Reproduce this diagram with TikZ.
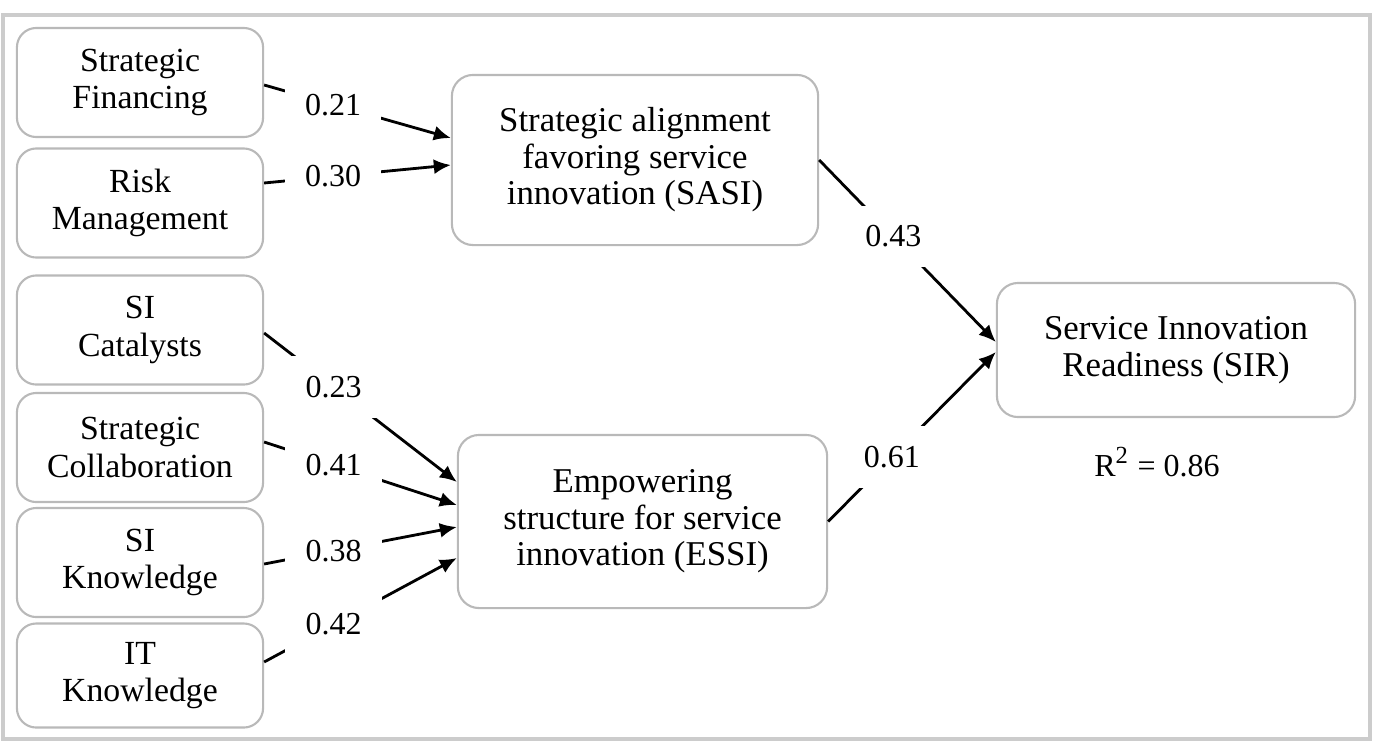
\documentclass[tikz,border=0pt]{standalone}
\usepackage{fontspec}
\setmainfont{Liberation Serif}
\usetikzlibrary{arrows.meta,positioning}
\tikzset{
  factorbox/.style={draw=gray!55, line width=0.6pt, rounded corners=5.5pt, align=center, minimum width=2.46cm, minimum height=1.09cm, inner sep=2pt, font=\fontsize{9.6}{10.6}\selectfont},
  constructbox/.style={draw=gray!55, line width=0.6pt, rounded corners=6pt, align=center, inner sep=3pt, font=\fontsize{9.9}{10.4}\selectfont},
  pathmsg/.style={-{Latex[length=1.7mm,width=1.5mm]}, line width=0.8pt},
  coeff/.style={fill=white, inner xsep=0.2cm, inner ysep=0.2cm, font=\fontsize{9.1}{10}\selectfont}
}

\begin{document}
\begin{tikzpicture}[x=0.01cm, y=-0.01cm]
\useasboundingbox (0,0) rectangle (1392,745);
\draw[gray!40, line width=0.9pt] (3,15) rectangle (1370,739);

% first-order factors
\node[factorbox] (sf) at (140,82.5) {Strategic\\Financing};
\node[factorbox] (rm) at (140,203) {Risk\\Management};
\node[factorbox] (sc) at (140,330) {SI\\Catalysts};
\node[factorbox] (sco) at (140,447.5) {Strategic\\Collaboration};
\node[factorbox] (sk) at (140,562.5) {SI\\Knowledge};
\node[factorbox, minimum height=1.04cm] (itk) at (140,675.5) {IT\\Knowledge};

% constructs
\node[constructbox, minimum width=3.66cm, minimum height=1.70cm] (sasi) at (635,160) {Strategic alignment\\favoring service\\innovation (SASI)};
\node[constructbox, minimum width=3.69cm, minimum height=1.73cm] (essi) at (642.5,521.5) {Empowering\\structure for service\\innovation (ESSI)};
\node[constructbox, minimum width=3.58cm, minimum height=1.34cm] (sir) at (1176,350) {Service Innovation\\Readiness (SIR)};
\node[font=\fontsize{9.1}{10}\selectfont] (rsq) at (1157,462) {R\textsuperscript{\scriptsize 2} = 0.86};

% paths
\draw[pathmsg] ([yshift=-0.025cm]sf.east) -- node[coeff,pos=0.37] {0.21} ([yshift=0.22cm]sasi.west);
\draw[pathmsg] ([yshift=0.2cm]rm.east) -- node[coeff,pos=0.37] {0.30} ([yshift=-0.05cm]sasi.west);
\draw[pathmsg] ([yshift=-0.03cm]sc.east) -- node[coeff,pos=0.36] {0.23} ([yshift=0.395cm]essi.west);
\draw[pathmsg] ([yshift=0.055cm]sco.east) -- node[coeff,pos=0.36] {0.41} ([yshift=0.165cm]essi.west);
\draw[pathmsg] ([yshift=-0.015cm]sk.east) -- node[coeff,pos=0.36] {0.38} ([yshift=-0.055cm]essi.west);
\draw[pathmsg] ([yshift=0.135cm]itk.east) -- node[coeff,pos=0.36] {0.42} ([yshift=-0.365cm]essi.west);
\draw[pathmsg] (sasi.east) -- node[coeff,pos=0.42] {0.43} ([yshift=0.08cm]sir.west);
\draw[pathmsg] (essi.east) -- node[coeff,pos=0.38] {0.61} ([yshift=-0.02cm]sir.west);
\end{tikzpicture}
\end{document}
